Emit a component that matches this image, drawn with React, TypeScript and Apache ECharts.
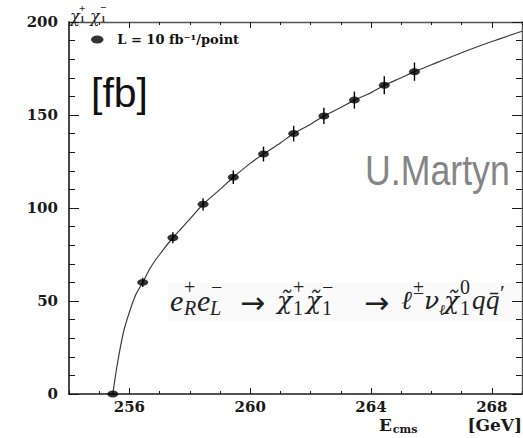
import React, { useEffect, useRef } from 'react';
import * as echarts from 'echarts';

// Measured cross-section points (E_cms in GeV, sigma in fb) with their error bars
const energies = [255.45, 256.44, 257.44, 258.44, 259.44, 260.44, 261.44, 262.44, 263.45, 264.44, 265.44];
const crossSections = [0, 60, 84, 102, 116.5, 129, 140, 149.5, 158, 166, 173.3];
const errors = [0, 2.5, 3, 3.3, 3.6, 4, 4.2, 4.4, 4.6, 4.8, 4.9];

// Theory curve
const curveEnergies = [255.45, 255.6, 255.8, 256.0, 256.2, 256.44, 256.7, 257.0, 257.44, 258.0, 258.44, 259.0, 259.44, 260.0, 260.44, 261.0, 261.44, 262.0, 262.44, 263.0, 263.45, 264.0, 264.44, 265.0, 265.44, 266.0, 267.0, 268.0, 269.0];
const curveValues = [0, 16, 33, 44, 53, 60, 68, 75, 84, 94, 102, 110, 116.5, 124, 129, 135, 140, 145, 149.5, 154, 158, 162, 166, 170, 173.3, 177, 183.5, 189.5, 195];

// Axis ranges and ticks
const xRange = [254, 269];
const xLabelValues = [256, 260, 264, 268];
const yRange = [0, 200];
const yStep = 50;

const pointsName = 'L = 10 fb⁻¹/point';

const SERIF = "'Liberation Serif', 'DejaVu Serif', serif";
const DSERIF = "'DejaVu Serif', serif";
const ARROW = "'DejaVu Sans', sans-serif";
const LABEL_FONT = "'DejaVu Serif', serif";

type Piece = [string, number, number, number, string, string, string?];

// Reaction formula, typeset piece by piece
const formula: Piece[] = [
  ['e', 170, 300, 30, SERIF, 'italic'],
  ['+', 184, 287, 20, SERIF, 'normal'],
  ['R', 184, 308, 20, SERIF, 'italic'],
  ['e', 197, 300, 30, SERIF, 'italic'],
  ['−', 211, 287, 20, SERIF, 'normal'],
  ['L', 210, 308, 20, SERIF, 'italic'],
  ['→', 240, 302, 30, ARROW, 'normal'],
  ['χ̃', 277, 300, 25, DSERIF, 'italic'],
  ['+', 293, 287, 20, SERIF, 'normal'],
  ['1', 293, 308, 20, SERIF, 'normal'],
  ['χ̃', 306, 300, 25, DSERIF, 'italic'],
  ['−', 322, 287, 20, SERIF, 'normal'],
  ['1', 322, 308, 20, SERIF, 'normal'],
  ['→', 364, 302, 30, ARROW, 'normal'],
  ['ℓ', 401, 300, 26, DSERIF, 'italic'],
  ['±', 413, 287, 20, SERIF, 'normal'],
  ['ν', 424, 300, 25, DSERIF, 'italic'],
  ['ℓ', 439, 310, 15, DSERIF, 'italic'],
  ['χ̃', 444, 300, 25, DSERIF, 'italic'],
  ['0', 460, 287, 20, SERIF, 'normal'],
  ['1', 460, 308, 20, SERIF, 'normal'],
  ['q', 472, 300, 27, SERIF, 'italic'],
  ['q̄', 486, 300, 27, SERIF, 'italic'],
  ['′', 500, 292, 22, SERIF, 'normal'],
];

// Y-axis title: chi1+ chi1-
const yTitle: Piece[] = [
  ['χ', 70, 16, 16, DSERIF, 'italic'],
  ['+', 79, 8, 11, SERIF, 'normal', 'bold'],
  ['1', 80, 19, 9, SERIF, 'normal', 'bold'],
  ['χ', 90, 16, 16, DSERIF, 'italic'],
  ['−', 100, 7, 11, SERIF, 'normal', 'bold'],
  ['1', 101, 19, 9, SERIF, 'normal', 'bold'],
];

const ELLIPSE = 'path://M0,5a5,3.2 0 1,0 10,0a5,3.2 0 1,0 -10,0z';

function pieceText(p: Piece, fill: string) {
  return {
    type: 'text',
    x: p[1],
    y: p[2],
    silent: true,
    style: {
      text: p[0],
      fontSize: p[3],
      fontFamily: p[4],
      fontStyle: p[5],
      fontWeight: p[6] || 'normal',
      fill,
      align: 'left',
      verticalAlign: 'middle',
    },
  };
}

export default function App() {
  const ref = useRef<HTMLDivElement>(null);

  useEffect(() => {
    if (!ref.current) return;
    const chart = echarts.init(ref.current, null, { renderer: 'svg' });

    const axisDark = '#1a1a1a';
    const axisGrey = '#555';
    const xBase = {
      type: 'value',
      min: xRange[0],
      max: xRange[1],
      interval: 1,
      splitLine: { show: false },
    };
    const yBase = {
      type: 'value',
      min: yRange[0],
      max: yRange[1],
      interval: yStep,
      splitLine: { show: false },
      minorSplitLine: { show: false },
      minorTick: { show: true, splitNumber: 5, length: 6, lineStyle: { color: axisDark, width: 1 } },
    };

    chart.setOption({
      animation: false,
      backgroundColor: '#ffffff',
      grid: { left: 69, right: 1, top: 22, bottom: 44, containLabel: false, outerBoundsMode: 'none' },
      legend: {
        data: [{ name: pointsName, icon: ELLIPSE }],
        left: 86,
        top: 28,
        itemWidth: 30,
        itemHeight: 8,
        symbolKeepAspect: true,
        selectedMode: false,
        textStyle: {
          fontFamily: LABEL_FONT,
          fontWeight: 'bold',
          fontSize: 13,
          color: '#111',
        },
      },
      xAxis: [
        {
          ...xBase,
          position: 'bottom',
          axisLine: { show: true, onZero: false, lineStyle: { color: axisDark, width: 1.6 } },
          axisTick: { show: true, inside: true, length: 3, lineStyle: { color: axisDark } },
          axisLabel: {
            customValues: xLabelValues,
            margin: 5,
            fontFamily: LABEL_FONT,
            fontWeight: 'bold',
            fontSize: 15,
            color: axisDark,
          },
          name: '{b|E}{s|cms}{g| }{b|[GeV]}',
          nameLocation: 'end',
          nameGap: 0,
          nameTextStyle: {
            align: 'right',
            verticalAlign: 'top',
            padding: [21, 0, 0, 0],
            rich: {
              b: { fontFamily: LABEL_FONT, fontWeight: 'bold', fontSize: 17, color: axisDark },
              s: { fontFamily: LABEL_FONT, fontWeight: 'bold', fontSize: 11, color: axisDark, padding: [9, 0, 0, 1] },
              g: { width: 50 },
            },
          },
        },
        {
          ...xBase,
          position: 'bottom',
          axisLine: { show: false, onZero: false },
          axisTick: { show: true, inside: true, length: 6, customValues: xLabelValues, lineStyle: { color: axisDark } },
          axisLabel: { show: false },
        },
        {
          ...xBase,
          position: 'top',
          axisLine: { show: true, onZero: false, lineStyle: { color: axisGrey, width: 1.4 } },
          axisTick: { show: true, inside: true, length: 3, lineStyle: { color: axisDark } },
          axisLabel: { show: false },
        },
        {
          ...xBase,
          position: 'top',
          axisLine: { show: false, onZero: false },
          axisTick: { show: true, inside: true, length: 6, customValues: xLabelValues, lineStyle: { color: axisDark } },
          axisLabel: { show: false },
        },
      ],
      yAxis: [
        {
          ...yBase,
          position: 'left',
          axisLine: { show: true, onZero: false, lineStyle: { color: axisDark, width: 1.6 } },
          axisTick: { show: true, inside: true, length: 10, lineStyle: { color: axisDark } },
          axisLabel: {
            margin: 11,
            fontFamily: LABEL_FONT,
            fontWeight: 'bold',
            fontSize: 15,
            color: axisDark,
          },
        },
        {
          ...yBase,
          position: 'right',
          axisLine: { show: true, onZero: false, lineStyle: { color: axisGrey, width: 1.4 } },
          axisTick: { show: true, inside: true, length: 10, lineStyle: { color: axisDark } },
          axisLabel: { show: false },
        },
      ],
      series: [
        {
          type: 'line',
          name: 'curve',
          xAxisIndex: 0,
          yAxisIndex: 0,
          data: curveEnergies.map((e, i) => [e, curveValues[i]]),
          showSymbol: false,
          smooth: 0.25,
          lineStyle: { color: '#3a3a3a', width: 1.2 },
          z: 2,
          silent: true,
        },
        {
          type: 'custom',
          name: 'errors',
          xAxisIndex: 0,
          yAxisIndex: 0,
          data: energies.map((e, i) => [e, crossSections[i], errors[i]]),
          encode: { x: 0, y: 1 },
          renderItem: (_params: any, api: any) => {
            const x = api.value(0);
            const y = api.value(1);
            const err = api.value(2);
            const lo = api.coord([x, y - err]);
            const hi = api.coord([x, y + err]);
            return {
              type: 'line',
              shape: { x1: lo[0], y1: lo[1], x2: hi[0], y2: hi[1] },
              style: { stroke: '#000', lineWidth: 1.4 },
            };
          },
          z: 3,
          silent: true,
        },
        {
          type: 'scatter',
          name: pointsName,
          xAxisIndex: 0,
          yAxisIndex: 0,
          data: energies.map((e, i) => [e, crossSections[i]]),
          symbol: ELLIPSE,
          symbolSize: [11, 7],
          itemStyle: { color: '#000' },
          clip: false,
          z: 4,
          silent: true,
        },
      ],
      graphic: [
        {
          type: 'rect',
          shape: { x: 168, y: 283, width: 353, height: 38 },
          style: { fill: '#fafafa' },
          silent: true,
          z: -1,
        },
        ...formula.map((p) => pieceText(p, '#222')),
        ...yTitle.map((p) => pieceText(p, '#222')),
        {
          type: 'text',
          x: 91,
          y: 93,
          silent: true,
          style: {
            text: '[fb]',
            fontSize: 41,
            fontFamily: "'Liberation Sans', Arial, sans-serif",
            fill: '#111',
            align: 'left',
            verticalAlign: 'middle',
          },
        },
        {
          type: 'text',
          x: 365,
          y: 170,
          scaleX: 0.85,
          silent: true,
          style: {
            text: 'U.Martyn',
            fontSize: 42,
            fontFamily: "'Liberation Sans', Arial, sans-serif",
            fill: '#858585',
            align: 'left',
            verticalAlign: 'middle',
          },
        },
      ],
    });

    return () => chart.dispose();
  }, []);

  return (
    <div
      ref={ref}
      style={{ position: 'fixed', left: 0, top: 0, width: 523, height: 438, background: '#fff' }}
    />
  );
}
